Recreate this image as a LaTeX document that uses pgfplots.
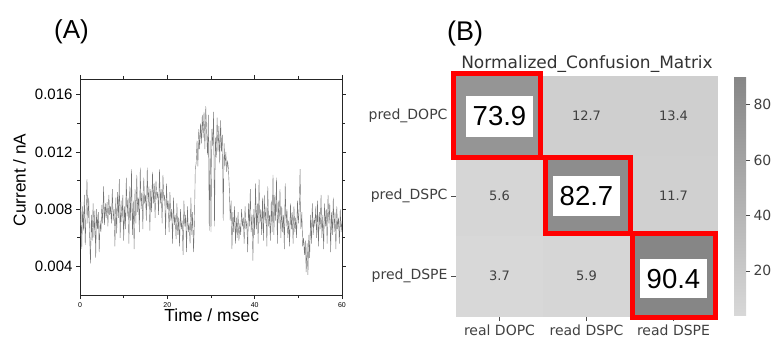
\documentclass[border=0pt]{standalone}
\usepackage{pgfplots}
\pgfplotsset{compat=1.18}
\usepackage{fontspec}
\setmainfont{Liberation Sans}
\newfontfamily\dejavu{DejaVu Sans}

\pgfplotstableread{
t v
0.0 0.0060
0.2 0.0085
0.4 0.0052
0.6 0.0082
0.8 0.0065
1.0 0.0090
1.2 0.0055
1.4 0.0078
1.6 0.0101
1.8 0.0070
2.0 0.0088
2.2 0.0062
2.4 0.0042
2.6 0.0076
2.8 0.0058
3.0 0.0084
3.2 0.0060
3.4 0.0079
3.6 0.0046
3.8 0.0080
4.0 0.0066
4.2 0.0078
4.4 0.0050
4.6 0.0072
4.8 0.0064
5.0 0.0083
5.2 0.0070
5.4 0.0096
5.6 0.0069
5.8 0.0084
6.0 0.0074
6.2 0.0085
6.4 0.0068
6.6 0.0090
6.8 0.0076
7.0 0.0082
7.2 0.0070
7.4 0.0094
7.6 0.0072
7.8 0.0080
8.0 0.0054
8.2 0.0088
8.4 0.0063
8.6 0.0092
8.8 0.0074
9.0 0.0101
9.2 0.0060
9.4 0.0086
9.6 0.0071
9.8 0.0090
10.0 0.0058
10.2 0.0082
10.4 0.0066
10.6 0.0102
10.8 0.0075
11.0 0.0088
11.2 0.0056
11.4 0.0096
11.6 0.0072
11.8 0.0108
12.0 0.0062
12.2 0.0086
12.4 0.0052
12.6 0.0094
12.8 0.0070
13.0 0.0104
13.2 0.0078
13.4 0.0088
13.6 0.0064
13.8 0.0109
14.0 0.0080
14.2 0.0092
14.4 0.0066
14.6 0.0102
14.8 0.0084
15.0 0.0090
15.2 0.0072
15.4 0.0109
15.6 0.0082
15.8 0.0096
16.0 0.0065
16.2 0.0094
16.4 0.0078
16.6 0.0106
16.8 0.0084
17.0 0.0098
17.2 0.0074
17.4 0.0100
17.6 0.0088
17.8 0.0092
18.0 0.0076
18.2 0.0108
18.4 0.0084
18.6 0.0094
18.8 0.0070
19.0 0.0104
19.2 0.0086
19.4 0.0090
19.6 0.0062
19.8 0.0098
20.0 0.0080
20.2 0.0086
20.4 0.0064
20.6 0.0092
20.8 0.0072
21.0 0.0080
21.2 0.0056
21.4 0.0088
21.6 0.0069
21.8 0.0076
22.0 0.0059
22.2 0.0084
22.4 0.0062
22.6 0.0074
22.8 0.0054
23.0 0.0080
23.2 0.0066
23.4 0.0072
23.6 0.0048
23.8 0.0086
24.0 0.0068
24.2 0.0076
24.4 0.0050
24.6 0.0082
24.8 0.0064
25.0 0.0070
25.2 0.0056
25.4 0.0088
25.6 0.0062
25.8 0.0078
26.0 0.0050
26.2 0.0070
26.4 0.0108
26.6 0.0112
26.8 0.0128
27.0 0.0110
27.2 0.0136
27.4 0.0122
27.6 0.0140
27.8 0.0126
28.0 0.0146
28.2 0.0130
28.4 0.0148
28.6 0.0122
28.8 0.0152
29.0 0.0134
29.2 0.0118
29.4 0.0146
29.6 0.0065
29.8 0.0128
30.0 0.0064
30.2 0.0136
30.4 0.0124
30.6 0.0148
30.8 0.0068
31.0 0.0130
31.2 0.0116
31.4 0.0144
31.6 0.0120
31.8 0.0138
32.0 0.0112
32.2 0.0142
32.4 0.0120
32.6 0.0132
32.8 0.0072
33.0 0.0126
33.2 0.0110
33.4 0.0120
33.6 0.0106
33.8 0.0114
34.0 0.0108
34.2 0.0094
34.4 0.0072
34.6 0.0086
34.8 0.0052
35.0 0.0078
35.2 0.0064
35.4 0.0082
35.6 0.0056
35.8 0.0074
36.0 0.0060
36.2 0.0078
36.4 0.0058
36.6 0.0070
36.8 0.0062
37.0 0.0080
37.2 0.0068
37.4 0.0074
37.6 0.0056
37.8 0.0082
38.0 0.0066
38.2 0.0072
38.4 0.0050
38.6 0.0084
38.8 0.0068
39.0 0.0094
39.2 0.0064
39.4 0.0076
39.6 0.0044
39.8 0.0080
40.0 0.0062
40.2 0.0098
40.4 0.0066
40.6 0.0084
40.8 0.0056
41.0 0.0101
41.2 0.0070
41.4 0.0080
41.6 0.0062
41.8 0.0088
42.0 0.0058
42.2 0.0090
42.4 0.0070
42.6 0.0082
42.8 0.0054
43.0 0.0096
43.2 0.0068
43.4 0.0076
43.6 0.0058
43.8 0.0086
44.0 0.0064
44.2 0.0104
44.4 0.0062
44.6 0.0090
44.8 0.0072
45.0 0.0102
45.2 0.0056
45.4 0.0086
45.6 0.0070
45.8 0.0094
46.0 0.0060
46.2 0.0082
46.4 0.0064
46.6 0.0076
46.8 0.0052
47.0 0.0098
47.2 0.0068
47.4 0.0080
47.6 0.0060
47.8 0.0072
48.0 0.0054
48.2 0.0084
48.4 0.0066
48.6 0.0078
48.8 0.0056
49.0 0.0082
49.2 0.0064
49.4 0.0074
49.6 0.0060
49.8 0.0086
50.0 0.0070
50.2 0.0080
50.4 0.0108
50.6 0.0066
50.8 0.0078
51.0 0.0054
51.2 0.0060
51.4 0.0048
51.6 0.0058
51.8 0.0036
52.0 0.0056
52.2 0.0034
52.4 0.0062
52.6 0.0046
52.8 0.0076
53.0 0.0056
53.2 0.0084
53.4 0.0062
53.6 0.0074
53.8 0.0068
54.0 0.0082
54.2 0.0060
54.4 0.0086
54.6 0.0054
54.8 0.0078
55.0 0.0066
55.2 0.0090
55.4 0.0060
55.6 0.0076
55.8 0.0052
56.0 0.0084
56.2 0.0068
56.4 0.0080
56.6 0.0056
56.8 0.0090
57.0 0.0070
57.2 0.0084
57.4 0.0050
57.6 0.0078
57.8 0.0062
58.0 0.0088
58.2 0.0064
58.4 0.0078
58.6 0.0052
58.8 0.0082
59.0 0.0066
59.2 0.0074
59.4 0.0056
59.6 0.0080
59.8 0.0064
60.0 0.0072
}\tracetable

\pgfplotstableread{
x y c
0 2 73.9
1 2 12.7
2 2 13.4
0 1 5.6
1 1 82.7
2 1 11.7
0 0 3.7
1 0 5.9
2 0 90.4
}\cmtable

\begin{document}
\begin{tikzpicture}
\useasboundingbox (0pt,0pt) rectangle (780pt,341pt);

% ---------- Panel A ----------
\begin{axis}[
  at={(80pt,46pt)}, anchor=south west,
  scale only axis, width=262pt, height=216pt,
  xmin=0, xmax=60, ymin=0.002, ymax=0.0171,
  xtick={0,20,40,60}, minor xtick={10,30,50},
  ytick={0.004,0.008,0.012,0.016}, minor ytick={0.006,0.010,0.014},
  tick align=outside, tick pos=both,
  xticklabel pos=lower, yticklabel pos=left,
  major tick length=4pt, minor tick length=3pt,
  scaled y ticks=false,
  /pgf/number format/assume math mode=true,
  yticklabel style={/pgf/number format/fixed, /pgf/number format/fixed zerofill,
     /pgf/number format/precision=3, font=\fontsize{15}{15}\selectfont},
  xticklabel style={font=\fontsize{7}{7}\selectfont, inner sep=0pt, yshift=-3pt},
  axis line style={black!85, line width=0.8pt},
  tick style={black!85, line width=0.6pt},
]
\addplot[black!55, line width=0.4pt] table[x=t, y=v] {\tracetable};
\end{axis}

\node[anchor=base, inner sep=0pt, font=\fontsize{17.5}{17.5}\selectfont] at (211.7pt,20pt) {Time / msec};
\node[rotate=90, anchor=base, inner sep=0pt, font=\fontsize{17.2}{17.2}\selectfont] at (25.6pt,161pt) {Current / nA};
\node[anchor=base west, inner sep=0pt, font=\fontsize{26}{26}\selectfont] at (54pt,302pt) {(A)};
\node[anchor=base west, inner sep=0pt, font=\fontsize{27}{27}\selectfont] at (447pt,301pt) {(B)};

% ---------- Panel B ----------
\begin{axis}[
  at={(456pt,25pt)}, anchor=south west,
  scale only axis, width=261pt, height=240pt,
  xmin=-0.5, xmax=2.5, ymin=-0.5, ymax=2.5,
  clip=false,
  xtick={0,1,2}, xticklabels={real DOPC, read DSPC, read DSPE},
  ytick={0,1,2}, yticklabels={pred\_DSPE, pred\_DSPC, pred\_DOPC},
  tick align=outside, tick pos=left, major tick length=5pt,
  axis line style={draw=none},
  tick style={black!70, line width=0.6pt},
  ticklabel style={font=\dejavu\fontsize{14}{14}\selectfont, text=black!75},
  colormap={cmgray}{rgb255(0cm)=(216,216,216); rgb255(1cm)=(134,134,134)},
  point meta min=3.7, point meta max=90.4,
  colorbar,
  colorbar style={
    at={(parent axis.north east)}, anchor=north west, xshift=8.5pt,
    width=12pt,
    ytick={20,40,60,80},
    axis line style={draw=none},
    tick align=outside, ytick pos=right, yticklabel pos=right,
    major tick length=4pt,
    tick style={black!70, line width=0.6pt},
    /pgf/number format/assume math mode=true,
    yticklabel style={font=\dejavu\fontsize{14}{14}\selectfont, text=black!75},
  },
]
\addplot[matrix plot*, mesh/cols=3, point meta=explicit] table[x=x, y=y, meta=c] {\cmtable};

\node[font=\dejavu\fontsize{13}{13}\selectfont, text=black!75] at (axis cs:1,2) {12.7};
\node[font=\dejavu\fontsize{13}{13}\selectfont, text=black!75] at (axis cs:2,2) {13.4};
\node[font=\dejavu\fontsize{13}{13}\selectfont, text=black!75] at (axis cs:0,1) {5.6};
\node[font=\dejavu\fontsize{13}{13}\selectfont, text=black!75] at (axis cs:2,1) {11.7};
\node[font=\dejavu\fontsize{13}{13}\selectfont, text=black!75] at (axis cs:0,0) {3.7};
\node[font=\dejavu\fontsize{13}{13}\selectfont, text=black!75] at (axis cs:1,0) {5.9};

\draw[red, line width=5pt] (axis cs:-0.534,2.5375) rectangle (axis cs:0.47,1.4875);
\draw[red, line width=5pt] (axis cs:0.534,1.48125) rectangle (axis cs:1.506,0.535);
\draw[red, line width=5pt] (axis cs:1.529,0.5375) rectangle (axis cs:2.483,-0.5125);

\node[fill=white, minimum width=67pt, minimum height=41pt, inner sep=0pt,
      font=\fontsize{27.5}{27.5}\selectfont] at (axis cs:0,2) {73.9};
\node[fill=white, minimum width=67pt, minimum height=40pt, inner sep=0pt,
      font=\fontsize{27.5}{27.5}\selectfont] at (axis cs:1,1) {82.7};
\node[fill=white, minimum width=67pt, minimum height=39pt, inner sep=0pt,
      font=\fontsize{27.5}{27.5}\selectfont] at (axis cs:2,-0.035) {90.4};
\end{axis}

\node[anchor=base, font=\dejavu\fontsize{17}{17}\selectfont, text=black!80] at (587pt,272.7pt) {Normalized\_Confusion\_Matrix};
\end{tikzpicture}
\end{document}
